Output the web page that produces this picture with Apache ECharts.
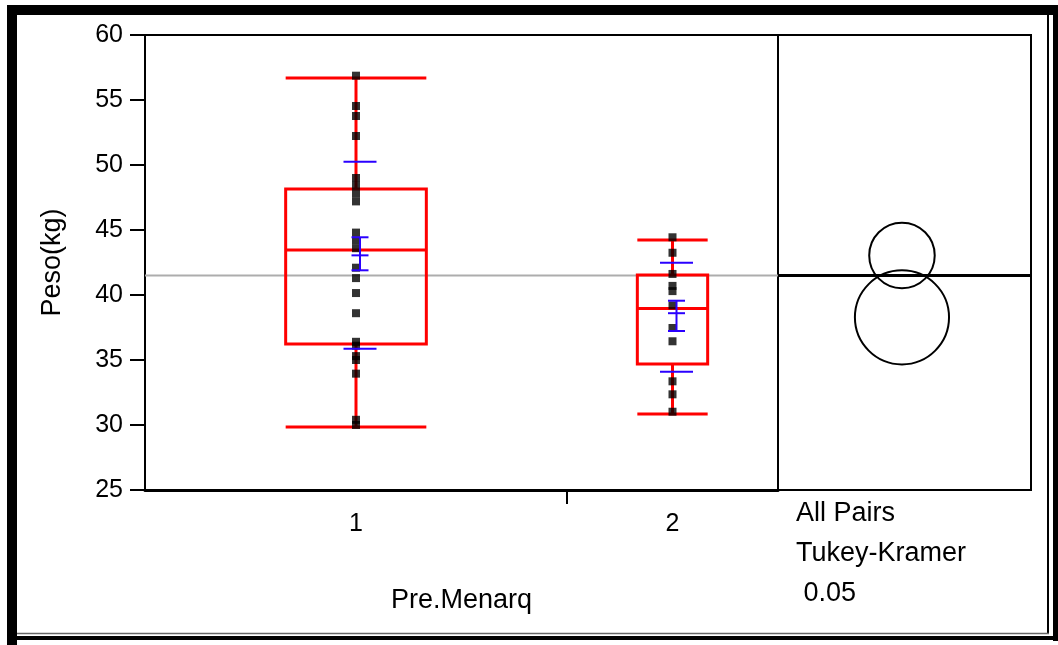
<!DOCTYPE html>
<html>
<head>
<meta charset="utf-8">
<script src="https://cdn.jsdelivr.net/npm/echarts@6/dist/echarts.min.js"></script>
<style>
html,body{margin:0;padding:0;background:#fff;}
#chart{width:1058px;height:645px;}
</style>
</head>
<body>
<div id="chart"></div>
<script>
// ---- data ----
const groups = ['1', '2'];
const counts = [22, 11];
const weights1 = [56.87, 54.54, 53.77, 52.23, 49.0, 48.4, 47.8, 47.2, 44.8, 44.2, 43.6,
                  42.1, 41.3, 40.15, 38.6, 36.4, 36.1, 35.3, 35.0, 33.95, 30.4, 30.0];
const weights2 = [44.44, 43.25, 41.62, 40.7, 40.3, 39.2, 37.46, 36.44, 33.36, 32.36, 31.02];
// [min whisker, Q1, median, Q3, max whisker]
const boxStats = [
  [29.85, 36.23, 43.46, 48.15, 56.69],
  [30.85, 34.70, 38.97, 41.54, 44.23]
];
const means = [43.05, 38.6];
const meanErrLow = [41.9, 37.23];
const meanErrHigh = [44.44, 39.56];
const sdLow = [35.87, 34.1];
const sdHigh = [50.25, 42.49];
const grandMean = 41.5;
const circleCenters = [43.04, 38.28];
const circleRadii = [2.52, 3.62];
const yTicks = [25, 30, 35, 40, 45, 50, 55, 60];
const rightNotes = ['All Pairs', 'Tukey-Kramer', ' 0.05'];

// ---- derived positions on the x (observation-count) scale ----
const total = counts[0] + counts[1];
const bounds = [0];
counts.forEach((c, i) => bounds.push(bounds[i] + c));
const centers = counts.map((c, i) => bounds[i] + c / 2);

const FONT = "'Liberation Sans', Arial, sans-serif";
const chart = echarts.init(document.getElementById('chart'), null, {renderer: 'canvas'});

function renderBox(params, api) {
  const cx = api.value(0), hw = api.value(1);
  const mn = api.value(2), q1 = api.value(3), md = api.value(4), q3 = api.value(5), mx = api.value(6);
  const L = api.coord([cx - hw, q3]), R = api.coord([cx + hw, q1]);
  const c = api.coord([cx, md]);
  const yMin = api.coord([cx, mn])[1], yMax = api.coord([cx, mx])[1];
  const yQ1 = R[1], yQ3 = L[1], yMd = c[1];
  const st = {stroke: '#ff0000', lineWidth: 3, fill: null};
  return {
    type: 'group',
    children: [
      {type: 'line', shape: {x1: c[0], y1: yMax, x2: c[0], y2: yQ3}, style: st},
      {type: 'line', shape: {x1: c[0], y1: yQ1, x2: c[0], y2: yMin}, style: st},
      {type: 'line', shape: {x1: L[0], y1: yMax, x2: R[0], y2: yMax}, style: st},
      {type: 'line', shape: {x1: L[0], y1: yMin, x2: R[0], y2: yMin}, style: st},
      {type: 'rect', shape: {x: L[0], y: yQ3, width: R[0] - L[0], height: yQ1 - yQ3}, style: {stroke: '#ff0000', lineWidth: 3, fill: 'none'}},
      {type: 'line', shape: {x1: L[0], y1: yMd, x2: R[0], y2: yMd}, style: st}
    ]
  };
}

function renderMean(params, api) {
  const cx = api.value(0);
  const p = api.coord([cx, api.value(1)]);
  const x = p[0] + 4;
  const y = v => api.coord([cx, v])[1];
  const st = {stroke: '#2a00ff', lineWidth: 2};
  const yM = y(api.value(1)), yEl = y(api.value(2)), yEh = y(api.value(3)), ySl = y(api.value(4)), ySh = y(api.value(5));
  const lw = 16.5, sw = 8.5;
  return {
    type: 'group',
    children: [
      {type: 'line', shape: {x1: x, y1: yEh, x2: x, y2: yEl}, style: st},
      {type: 'line', shape: {x1: x - sw, y1: yEh, x2: x + sw, y2: yEh}, style: st},
      {type: 'line', shape: {x1: x - sw, y1: yM, x2: x + sw, y2: yM}, style: st},
      {type: 'line', shape: {x1: x - sw, y1: yEl, x2: x + sw, y2: yEl}, style: st},
      {type: 'line', shape: {x1: x - lw, y1: ySh, x2: x + lw, y2: ySh}, style: st},
      {type: 'line', shape: {x1: x - lw, y1: ySl, x2: x + lw, y2: ySl}, style: st}
    ]
  };
}

function renderCircle(params, api) {
  const c = api.coord([api.value(0), api.value(1)]);
  const r = api.size([0, api.value(2)])[1];
  return {type: 'circle', shape: {cx: c[0], cy: c[1], r: r}, style: {fill: 'none', stroke: '#000', lineWidth: 2}};
}

const pts = [];
weights1.forEach(v => pts.push([centers[0], v]));
weights2.forEach(v => pts.push([centers[1], v]));

const option = {
  animation: false,
  backgroundColor: '#fff',
  textStyle: {fontFamily: FONT, color: '#000'},
  grid: [
    {left: 145, top: 35, width: 633, height: 455, show: true, borderColor: '#000', borderWidth: 2, containLabel: false},
    {left: 778, top: 35, width: 253, height: 455, show: true, borderColor: '#000', borderWidth: 2, containLabel: false}
  ],
  xAxis: [
    {
      type: 'value', gridIndex: 0, min: 0, max: total,
      name: 'Pre.Menarq', nameLocation: 'middle', nameGap: 97,
      nameTextStyle: {fontSize: 27, color: '#000', fontFamily: FONT},
      axisLine: {show: true, lineStyle: {color: '#000', width: 3}},
      axisTick: {show: true, customValues: [bounds[1]], length: 14, inside: false, lineStyle: {color: '#000', width: 2}},
      axisLabel: {show: true, customValues: centers, margin: 22, fontSize: 25, color: '#000', fontFamily: FONT,
        formatter: v => groups[centers.indexOf(v)]},
      splitLine: {show: false}
    },
    {type: 'value', gridIndex: 1, min: 0, max: 1, show: false}
  ],
  yAxis: [
    {
      type: 'value', gridIndex: 0, min: 25, max: 60, interval: 5,
      name: 'Peso(kg)', nameLocation: 'middle', nameGap: 79,
      nameTextStyle: {fontSize: 27, color: '#000', fontFamily: FONT},
      axisLine: {show: true, lineStyle: {color: '#000', width: 2}},
      axisTick: {show: true, length: 15, lineStyle: {color: '#000', width: 2}},
      axisLabel: {margin: 22, fontSize: 25, color: '#000', fontFamily: FONT, customValues: yTicks},
      splitLine: {show: false}
    },
    {type: 'value', gridIndex: 1, min: 25, max: 60, show: false}
  ],
  series: [
    {
      type: 'line', xAxisIndex: 0, yAxisIndex: 0, z: 1, silent: true, symbol: 'none',
      lineStyle: {color: '#adadad', width: 2},
      data: [[0, grandMean], [total, grandMean]]
    },
    {
      type: 'custom', xAxisIndex: 0, yAxisIndex: 0, z: 2, silent: true,
      renderItem: renderBox, encode: {x: 0, y: 4},
      data: boxStats.map((s, i) => [centers[i], counts[i] / 6, ...s])
    },
    {
      type: 'scatter', xAxisIndex: 0, yAxisIndex: 0, z: 3, silent: true,
      symbol: 'rect', symbolSize: 8, itemStyle: {color: '#000'},
      data: pts
    },
    {
      type: 'custom', xAxisIndex: 0, yAxisIndex: 0, z: 4, silent: true,
      renderItem: renderMean, encode: {x: 0, y: 1},
      data: means.map((m, i) => [centers[i], m, meanErrLow[i], meanErrHigh[i], sdLow[i], sdHigh[i]])
    },
    {
      type: 'line', xAxisIndex: 1, yAxisIndex: 1, z: 1, silent: true, symbol: 'none',
      lineStyle: {color: '#000', width: 3},
      data: [[0, grandMean], [1, grandMean]]
    },
    {
      type: 'custom', xAxisIndex: 1, yAxisIndex: 1, z: 2, silent: true,
      renderItem: renderCircle, encode: {x: 0, y: 1},
      data: circleCenters.map((c, i) => [0.49, c, circleRadii[i]])
    }
  ],
  graphic: [
    {type: 'rect', shape: {x: 7, y: 5, width: 1051, height: 10}, style: {fill: '#000'}, silent: true},
    {type: 'rect', shape: {x: 7, y: 5, width: 10, height: 640}, style: {fill: '#000'}, silent: true},
    {type: 'rect', shape: {x: 1053, y: 5, width: 5, height: 636}, style: {fill: '#000'}, silent: true},
    {type: 'rect', shape: {x: 15, y: 636, width: 1043, height: 4}, style: {fill: '#000'}, silent: true},
    {type: 'line', shape: {x1: 1048, y1: 15, x2: 1048, y2: 634}, style: {stroke: '#000', lineWidth: 2}, silent: true},
    {type: 'line', shape: {x1: 17, y1: 633.5, x2: 1049, y2: 633.5}, style: {stroke: '#666', lineWidth: 1.5}, silent: true},
    ...rightNotes.map((t, i) => ({
      type: 'text', silent: true,
      style: {text: t, x: 796, y: 514 + i * 40, font: '27px ' + FONT, fill: '#000', textVerticalAlign: 'middle', textAlign: 'left'}
    }))
  ]
};
chart.setOption(option);
</script>
</body>
</html>
